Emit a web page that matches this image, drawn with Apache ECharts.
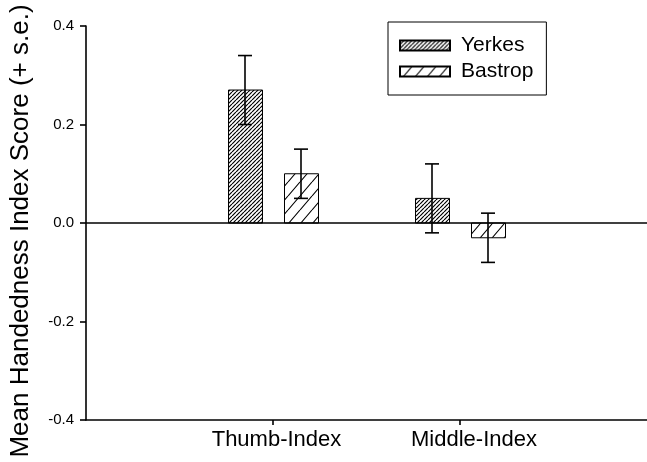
<!DOCTYPE html>
<html>
<head>
<meta charset="utf-8">
<script src="https://cdn.jsdelivr.net/npm/echarts@6/dist/echarts.min.js"></script>
<style>html,body{margin:0;padding:0;background:#fff}#c{width:647px;height:462px}</style>
</head>
<body>
<div id="c"></div>
<script>
const categories = ['Thumb-Index', 'Middle-Index'];
const seriesNames = ['Yerkes', 'Bastrop'];
const yerkes = [0.27, 0.05];
const yerkesSE = [0.07, 0.07];
const bastrop = [0.10, -0.03];
const bastropSE = [0.05, 0.05];
const yTicks = [-0.4, -0.2, 0.0, 0.2, 0.4];

function hatch(w, h, lw) {
  const c2 = document.createElement('canvas');
  c2.width = w; c2.height = h;
  const g = c2.getContext('2d');
  g.fillStyle = '#fff';
  g.fillRect(0, 0, w, h);
  g.strokeStyle = '#000';
  g.lineWidth = lw;
  g.beginPath();
  for (let k = -1; k <= 1; k++) {
    g.moveTo(k * w, h);
    g.lineTo((k + 1) * w, 0);
  }
  g.stroke();
  return c2;
}
const patY = { image: hatch(4, 4, 1.2), repeat: 'repeat' };
const patB = { image: hatch(12, 14, 1.1), repeat: 'repeat' };

const BAR_W = 34;
const OFFSET = 28;
const CAP = 7;

function makeRender(offset, pat) {
  return function (params, api) {
    const x = api.value(0), v = api.value(1), e = api.value(2);
    const c0 = api.coord([x, 0]);
    const c1 = api.coord([x, v]);
    const cx = c0[0] + offset;
    const top = Math.min(c0[1], c1[1]);
    const h = Math.abs(c1[1] - c0[1]);
    const eT = api.coord([x, v + e])[1];
    const eB = api.coord([x, v - e])[1];
    const ls = { stroke: '#000', lineWidth: 1.6 };
    return {
      type: 'group',
      children: [
        { type: 'rect', shape: { x: Math.round(cx - BAR_W / 2) + 0.5, y: top, width: BAR_W, height: h },
          style: { fill: pat, stroke: '#000', lineWidth: 1 } },
        { type: 'line', shape: { x1: cx, y1: eT, x2: cx, y2: eB }, style: ls },
        { type: 'line', shape: { x1: cx - CAP, y1: eT, x2: cx + CAP, y2: eT }, style: ls },
        { type: 'line', shape: { x1: cx - CAP, y1: eB, x2: cx + CAP, y2: eB }, style: ls }
      ]
    };
  };
}

const FONT = 'Liberation Sans, Arial, sans-serif';
const chart = echarts.init(document.getElementById('c'));
chart.setOption({
  animation: false,
  backgroundColor: '#fff',
  grid: { left: 84, right: -5, top: 26, bottom: 42 },
  legend: {
    data: seriesNames,
    orient: 'vertical',
    left: 388, top: 22,
    padding: [13, 13, 13, 11],
    itemWidth: 50, itemHeight: 10, itemGap: 5,
    icon: 'rect',
    borderColor: '#000', borderWidth: 1,
    textStyle: { fontFamily: FONT, fontSize: 21, color: '#000', lineHeight: 21, padding: [0, 0, 0, 6] }
  },
  xAxis: {
    type: 'value', min: 0, max: 3, interval: 1,
    splitLine: { show: false },
    axisLine: { show: true, onZero: false, lineStyle: { color: '#000', width: 1.6 } },
    axisTick: { show: true, customValues: [1, 2], length: 5, lineStyle: { color: '#000', width: 1.6 } },
    axisLabel: {
      customValues: [1, 2],
      formatter: v => (v === 1 ? '{a|' + categories[0] + '}' : '{b|' + categories[1] + '}'),
      margin: 9,
      color: '#000', fontFamily: FONT, fontSize: 22,
      rich: {
        a: { fontFamily: FONT, fontSize: 22, color: '#000', padding: [0, 0, 0, 7] },
        b: { fontFamily: FONT, fontSize: 22, color: '#000', padding: [0, 0, 0, 28] }
      }
    }
  },
  yAxis: {
    type: 'value', min: yTicks[0], max: yTicks[yTicks.length - 1], interval: 0.2,
    name: 'Mean Handedness Index Score (+ s.e.)',
    nameLocation: 'middle', nameGap: 52,
    nameTextStyle: { fontFamily: FONT, fontSize: 26, color: '#000', padding: [0, 0, 0, -16] },
    splitLine: { show: false },
    axisLine: { show: true, onZero: false, lineStyle: { color: '#000', width: 1.6 } },
    axisTick: { show: true, length: 6, lineStyle: { color: '#000', width: 1.6 } },
    axisLabel: { formatter: v => v.toFixed(1), margin: 12, color: '#000', fontFamily: FONT, fontSize: 15 }
  },
  series: [
    {
      name: seriesNames[0], type: 'custom',
      itemStyle: { color: patY, borderColor: '#000', borderWidth: 1 },
      renderItem: makeRender(-OFFSET, patY),
      data: categories.map((c, i) => [i + 1, yerkes[i], yerkesSE[i]]),
      markLine: {
        silent: true, symbol: ['none', 'none'], label: { show: false },
        lineStyle: { color: '#000', width: 1.6, type: 'solid' },
        data: [{ yAxis: 0 }]
      },
      z: 3
    },
    {
      name: seriesNames[1], type: 'custom',
      itemStyle: { color: patB, borderColor: '#000', borderWidth: 1 },
      renderItem: makeRender(OFFSET, patB),
      data: categories.map((c, i) => [i + 1, bastrop[i], bastropSE[i]]),
      z: 3
    }
  ]
});
</script>
</body>
</html>
